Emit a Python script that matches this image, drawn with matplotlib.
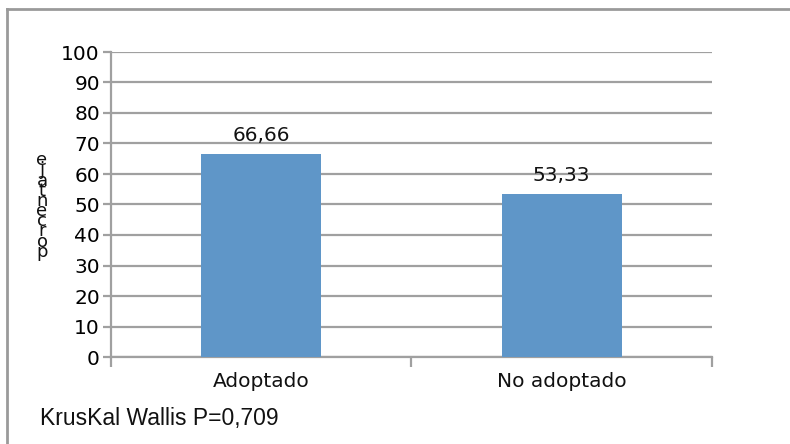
import matplotlib
matplotlib.use("Agg")
import matplotlib.pyplot as plt
from matplotlib.lines import Line2D

# data
categories = ["Adoptado", "No adoptado"]
values = [66.66, 53.33]
value_labels = ["66,66", "53,33"]
y_ticks = list(range(0, 101, 10))
y_label = "porcentaje"
footnote = "KrusKal Wallis P=0,709"

BAR_COLOR = "#5F96C8"
GRID_COLOR = "#A0A0A0"

fig = plt.figure(figsize=(7.9, 4.44), dpi=100)
ax = fig.add_axes([111 / 790, 87 / 444, 601 / 790, 305 / 444])

xs = [0.5 + i for i in range(len(categories))]
ax.bar(xs, values, width=0.4, color=BAR_COLOR, zorder=3)
for x, v, lab in zip(xs, values, value_labels):
    ax.text(x, v + 3.0, lab, ha="center", va="bottom", fontsize=14.5, color="#111111")

ax.set_xlim(0, len(categories))
ax.set_ylim(0, 100)
ax.set_yticks(y_ticks)
ax.set_yticklabels([str(t) for t in y_ticks], fontsize=14.5)
ax.set_xticks(range(len(categories) + 1))
ax.set_xticklabels([])
for x, c in zip(xs, categories):
    ax.text(x, -5.0, c, ha="center", va="top", fontsize=14.5, color="#111111")

ax.yaxis.grid(True, color=GRID_COLOR, linewidth=1.6, zorder=0)
ax.set_axisbelow(True)
for s in ["top", "right"]:
    ax.spines[s].set_visible(False)
for s in ["left", "bottom"]:
    ax.spines[s].set_color(GRID_COLOR)
    ax.spines[s].set_linewidth(1.6)
ax.tick_params(axis="y", length=6, color=GRID_COLOR, width=1.6, pad=2)
ax.tick_params(axis="x", length=7, color=GRID_COLOR, width=1.6)

# stacked y label (letters upright, bottom to top)
fig.text(42 / 790, 1 - 206 / 444, "\n".join(reversed(y_label)), ha="center", va="center",
         fontsize=13, linespacing=0.44, color="#111111")

fig.text(40 / 790, 1 - 418 / 444, footnote, ha="left", va="center", fontsize=16.5,
         family="Liberation Sans", color="#111111")

# outer frame
fig.add_artist(Line2D([7 / 790, 7 / 790], [0, 1 - 9 / 444], color="#9A9A9A", linewidth=2, transform=fig.transFigure))
fig.add_artist(Line2D([7 / 790, 1], [1 - 9 / 444, 1 - 9 / 444], color="#9A9A9A", linewidth=2, transform=fig.transFigure))

fig.savefig("out.png", dpi=100)
